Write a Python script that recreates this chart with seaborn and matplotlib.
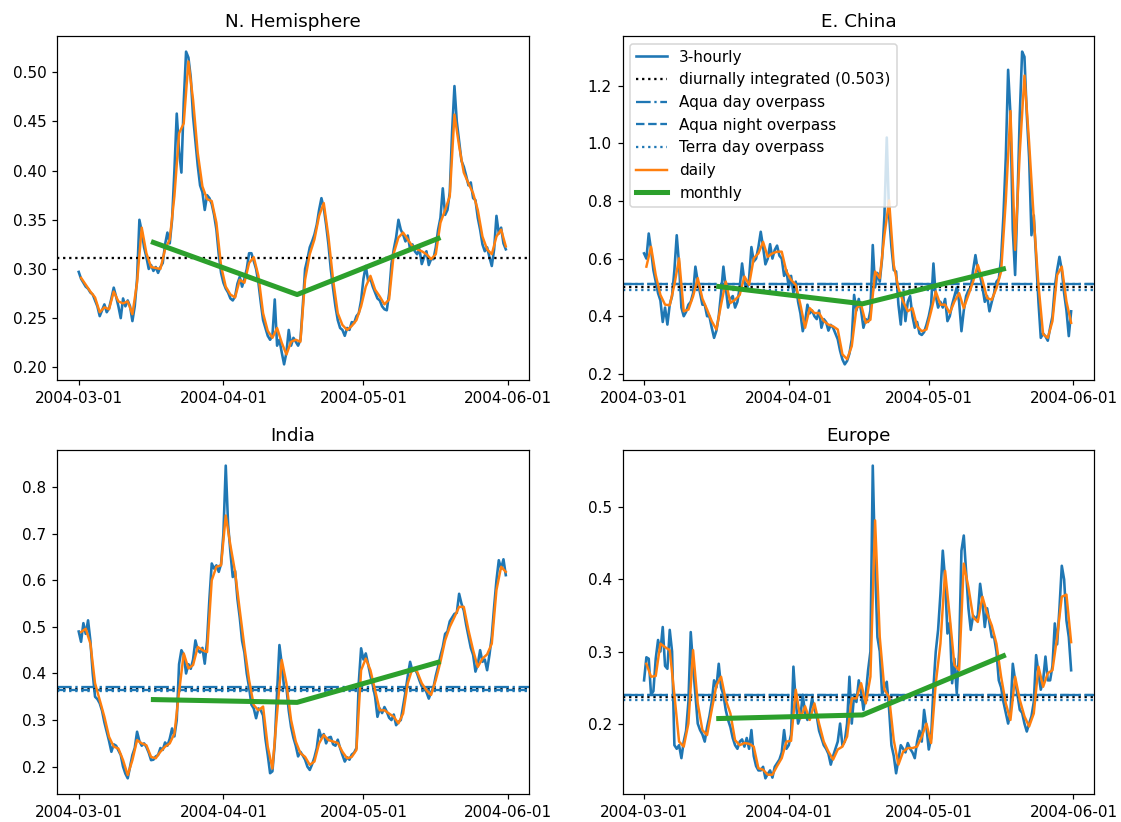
import numpy as np
import pandas as pd
import matplotlib
matplotlib.use("Agg")
import matplotlib.pyplot as plt
import matplotlib.dates as mdates
import seaborn as sns

# ---------------- data ----------------
regions = ["N. Hemisphere", "E. China", "India", "Europe"]
start_3h = "2004-03-01 00:00"   # samples read every 12 h from the 3-hourly curve
start_daily = "2004-03-01 12:00"
monthly_times = ["2004-03-17 00:00", "2004-04-16 19:00", "2004-05-17 00:00"]

nh_3h = [
    0.297, 0.290, 0.286, 0.282, 0.280, 0.276, 0.274, 0.268, 0.262, 0.252,
    0.258, 0.264, 0.256, 0.260, 0.270, 0.281, 0.272, 0.262, 0.250, 0.270,
    0.262, 0.268, 0.262, 0.247, 0.262, 0.290, 0.350, 0.338, 0.322, 0.312,
    0.300, 0.304, 0.298, 0.302, 0.296, 0.302, 0.306, 0.325, 0.337, 0.326,
    0.350, 0.400, 0.458, 0.420, 0.398, 0.470, 0.521, 0.515, 0.495, 0.455,
    0.430, 0.405, 0.385, 0.378, 0.360, 0.375, 0.372, 0.366, 0.355, 0.340,
    0.315, 0.296, 0.286, 0.280, 0.276, 0.270, 0.268, 0.272, 0.285, 0.292,
    0.282, 0.290, 0.300, 0.316, 0.316, 0.308, 0.300, 0.286, 0.266, 0.248,
    0.240, 0.232, 0.228, 0.232, 0.269, 0.222, 0.228, 0.215, 0.203, 0.215,
    0.238, 0.222, 0.230, 0.226, 0.222, 0.228, 0.262, 0.300, 0.310, 0.322,
    0.328, 0.335, 0.345, 0.360, 0.372, 0.362, 0.345, 0.325, 0.300, 0.280,
    0.262, 0.248, 0.240, 0.238, 0.232, 0.240, 0.238, 0.246, 0.245, 0.252,
    0.255, 0.268, 0.290, 0.303, 0.288, 0.290, 0.282, 0.276, 0.270, 0.268,
    0.262, 0.259, 0.258, 0.275, 0.305, 0.320, 0.332, 0.350, 0.340, 0.335,
    0.328, 0.334, 0.320, 0.325, 0.318, 0.315, 0.320, 0.305, 0.312, 0.318,
    0.304, 0.310, 0.310, 0.322, 0.340, 0.352, 0.382, 0.355, 0.360, 0.378,
    0.440, 0.486, 0.450, 0.430, 0.410, 0.404, 0.395, 0.385, 0.388, 0.372,
    0.370, 0.352, 0.340, 0.325, 0.318, 0.322, 0.312, 0.303, 0.320, 0.354,
    0.336, 0.342, 0.326, 0.320,
]
nh_daily = [
    0.291, 0.284, 0.277, 0.271, 0.256, 0.261, 0.259, 0.277, 0.267, 0.265,
    0.267, 0.254, 0.286, 0.342, 0.316, 0.302, 0.301, 0.300, 0.320, 0.330,
    0.374, 0.438, 0.448, 0.511, 0.472, 0.418, 0.384, 0.371, 0.369, 0.347,
    0.303, 0.282, 0.274, 0.271, 0.289, 0.286, 0.306, 0.312, 0.293, 0.255,
    0.237, 0.230, 0.240, 0.225, 0.213, 0.226, 0.228, 0.226, 0.289, 0.315,
    0.330, 0.354, 0.367, 0.333, 0.289, 0.255, 0.243, 0.238, 0.242, 0.248,
    0.262, 0.282, 0.293, 0.279, 0.272, 0.264, 0.269, 0.316, 0.332, 0.337,
    0.330, 0.323, 0.320, 0.318, 0.315, 0.310, 0.315, 0.347, 0.360, 0.374,
    0.457, 0.425, 0.398, 0.387, 0.377, 0.360, 0.333, 0.320, 0.315, 0.333,
    0.340, 0.323,
]
nh_monthly = [0.327, 0.274, 0.331]

ch_3h = [
    0.618, 0.600, 0.687, 0.630, 0.560, 0.520, 0.480, 0.455, 0.380, 0.430,
    0.371, 0.440, 0.470, 0.560, 0.681, 0.580, 0.430, 0.400, 0.415, 0.440,
    0.450, 0.480, 0.572, 0.520, 0.480, 0.440, 0.440, 0.400, 0.400, 0.360,
    0.325, 0.350, 0.400, 0.480, 0.572, 0.500, 0.430, 0.460, 0.470, 0.430,
    0.450, 0.500, 0.583, 0.520, 0.490, 0.530, 0.640, 0.590, 0.600, 0.640,
    0.693, 0.640, 0.580, 0.600, 0.650, 0.600, 0.630, 0.645, 0.610, 0.600,
    0.540, 0.560, 0.500, 0.540, 0.480, 0.520, 0.450, 0.410, 0.348, 0.380,
    0.440, 0.410, 0.420, 0.400, 0.390, 0.420, 0.360, 0.390, 0.380, 0.350,
    0.370, 0.360, 0.340, 0.320, 0.280, 0.250, 0.233, 0.245, 0.270, 0.320,
    0.474, 0.420, 0.460, 0.420, 0.360, 0.390, 0.380, 0.420, 0.647, 0.500,
    0.550, 0.520, 0.600, 0.750, 1.020, 0.750, 0.640, 0.560, 0.555, 0.440,
    0.371, 0.480, 0.383, 0.450, 0.470, 0.400, 0.360, 0.380, 0.340, 0.335,
    0.345, 0.370, 0.400, 0.440, 0.583, 0.470, 0.430, 0.450, 0.430, 0.460,
    0.383, 0.400, 0.440, 0.470, 0.500, 0.450, 0.348, 0.420, 0.470, 0.490,
    0.500, 0.560, 0.612, 0.560, 0.540, 0.500, 0.450, 0.470, 0.417, 0.450,
    0.480, 0.520, 0.530, 0.600, 0.750, 0.950, 1.255, 1.100, 0.700, 0.543,
    0.800, 1.100, 1.318, 1.300, 1.100, 0.950, 0.681, 0.750, 0.600, 0.450,
    0.325, 0.340, 0.330, 0.315, 0.360, 0.400, 0.500, 0.560, 0.606, 0.560,
    0.480, 0.420, 0.331, 0.417,
]
ch_daily = [
    0.572, 0.641, 0.543, 0.474, 0.440, 0.438, 0.509, 0.601, 0.417, 0.423,
    0.469, 0.532, 0.461, 0.423, 0.383, 0.354, 0.440, 0.520, 0.446, 0.457,
    0.474, 0.538, 0.509, 0.601, 0.618, 0.658, 0.606, 0.618, 0.624, 0.624,
    0.555, 0.526, 0.509, 0.440, 0.360, 0.428, 0.411, 0.411, 0.383, 0.371,
    0.365, 0.354, 0.268, 0.251, 0.296, 0.428, 0.440, 0.377, 0.388, 0.555,
    0.532, 0.681, 0.802, 0.578, 0.497, 0.451, 0.417, 0.428, 0.365, 0.348,
    0.354, 0.417, 0.486, 0.440, 0.440, 0.411, 0.451, 0.480, 0.428, 0.474,
    0.520, 0.578, 0.526, 0.463, 0.457, 0.497, 0.555, 0.800, 1.112, 0.630,
    0.968, 1.235, 1.003, 0.738, 0.509, 0.337, 0.325, 0.383, 0.543, 0.572,
    0.451, 0.377,
]
ch_monthly = [0.503, 0.443, 0.564]

in_3h = [
    0.490, 0.468, 0.508, 0.485, 0.514, 0.470, 0.400, 0.350, 0.345, 0.336,
    0.320, 0.295, 0.275, 0.255, 0.232, 0.248, 0.245, 0.235, 0.225, 0.200,
    0.185, 0.175, 0.200, 0.225, 0.240, 0.275, 0.255, 0.245, 0.250, 0.242,
    0.230, 0.214, 0.215, 0.222, 0.225, 0.240, 0.236, 0.252, 0.245, 0.260,
    0.282, 0.265, 0.300, 0.420, 0.450, 0.440, 0.400, 0.420, 0.410, 0.430,
    0.471, 0.450, 0.445, 0.455, 0.421, 0.470, 0.560, 0.636, 0.625, 0.632,
    0.618, 0.635, 0.700, 0.846, 0.720, 0.660, 0.607, 0.620, 0.560, 0.520,
    0.470, 0.445, 0.400, 0.370, 0.333, 0.325, 0.304, 0.325, 0.321, 0.310,
    0.260, 0.225, 0.186, 0.190, 0.250, 0.360, 0.461, 0.420, 0.370, 0.370,
    0.320, 0.285, 0.262, 0.245, 0.222, 0.232, 0.224, 0.215, 0.200, 0.193,
    0.205, 0.220, 0.240, 0.279, 0.262, 0.270, 0.250, 0.262, 0.264, 0.248,
    0.245, 0.258, 0.240, 0.225, 0.211, 0.220, 0.215, 0.226, 0.230, 0.240,
    0.380, 0.454, 0.430, 0.443, 0.420, 0.395, 0.375, 0.350, 0.307, 0.325,
    0.315, 0.328, 0.318, 0.305, 0.300, 0.312, 0.289, 0.296, 0.300, 0.330,
    0.360, 0.395, 0.425, 0.405, 0.410, 0.400, 0.385, 0.372, 0.370, 0.360,
    0.346, 0.360, 0.370, 0.395, 0.415, 0.438, 0.457, 0.485, 0.490, 0.512,
    0.520, 0.528, 0.530, 0.571, 0.550, 0.535, 0.505, 0.480, 0.455, 0.440,
    0.404, 0.420, 0.450, 0.425, 0.430, 0.407, 0.440, 0.480, 0.543, 0.600,
    0.643, 0.625, 0.645, 0.611,
]
in_daily = [
    0.489, 0.496, 0.464, 0.379, 0.343, 0.307, 0.264, 0.243, 0.239, 0.214,
    0.182, 0.214, 0.257, 0.250, 0.246, 0.221, 0.218, 0.232, 0.243, 0.250,
    0.271, 0.360, 0.443, 0.411, 0.418, 0.457, 0.450, 0.446, 0.600, 0.629,
    0.632, 0.739, 0.675, 0.618, 0.536, 0.457, 0.386, 0.332, 0.321, 0.329,
    0.243, 0.196, 0.314, 0.429, 0.379, 0.300, 0.254, 0.229, 0.221, 0.204,
    0.211, 0.250, 0.268, 0.257, 0.254, 0.251, 0.232, 0.218, 0.221, 0.236,
    0.407, 0.432, 0.407, 0.364, 0.321, 0.321, 0.314, 0.307, 0.293, 0.314,
    0.379, 0.411, 0.404, 0.379, 0.364, 0.354, 0.386, 0.425, 0.471, 0.500,
    0.521, 0.543, 0.543, 0.493, 0.450, 0.414, 0.432, 0.441, 0.464, 0.579,
    0.629, 0.618,
]
in_monthly = [0.344, 0.338, 0.424]

eu_3h = [
    0.260, 0.292, 0.290, 0.240, 0.245, 0.290, 0.316, 0.300, 0.334, 0.280,
    0.276, 0.330, 0.300, 0.170, 0.165, 0.170, 0.152, 0.175, 0.190, 0.230,
    0.327, 0.280, 0.240, 0.200, 0.191, 0.185, 0.175, 0.195, 0.210, 0.230,
    0.260, 0.250, 0.283, 0.250, 0.240, 0.219, 0.205, 0.195, 0.180, 0.170,
    0.165, 0.175, 0.178, 0.168, 0.180, 0.165, 0.191, 0.155, 0.141, 0.135,
    0.135, 0.140, 0.124, 0.130, 0.135, 0.125, 0.140, 0.145, 0.150, 0.160,
    0.191, 0.165, 0.170, 0.185, 0.279, 0.230, 0.200, 0.210, 0.240, 0.215,
    0.205, 0.215, 0.235, 0.220, 0.210, 0.190, 0.180, 0.170, 0.165, 0.158,
    0.143, 0.155, 0.165, 0.175, 0.200, 0.170, 0.175, 0.200, 0.265, 0.200,
    0.240, 0.230, 0.260, 0.245, 0.219, 0.240, 0.274, 0.300, 0.558, 0.420,
    0.320, 0.300, 0.240, 0.250, 0.258, 0.220, 0.170, 0.155, 0.131, 0.150,
    0.170, 0.165, 0.160, 0.173, 0.165, 0.160, 0.152, 0.175, 0.190, 0.175,
    0.219, 0.195, 0.164, 0.180, 0.250, 0.300, 0.330, 0.380, 0.440, 0.400,
    0.325, 0.340, 0.256, 0.290, 0.242, 0.300, 0.440, 0.461, 0.410, 0.360,
    0.330, 0.350, 0.345, 0.350, 0.394, 0.370, 0.334, 0.360, 0.340, 0.320,
    0.320, 0.300, 0.260, 0.250, 0.230, 0.215, 0.200, 0.215, 0.283, 0.260,
    0.240, 0.219, 0.215, 0.200, 0.189, 0.200, 0.210, 0.230, 0.295, 0.270,
    0.247, 0.260, 0.293, 0.260, 0.260, 0.280, 0.339, 0.310, 0.360, 0.419,
    0.400, 0.343, 0.320, 0.274,
]
eu_daily = [
    0.283, 0.265, 0.266, 0.311, 0.306, 0.302, 0.240, 0.175, 0.168, 0.200,
    0.302, 0.228, 0.191, 0.184, 0.219, 0.253, 0.265, 0.233, 0.214, 0.177,
    0.170, 0.173, 0.172, 0.168, 0.138, 0.136, 0.129, 0.129, 0.141, 0.152,
    0.175, 0.176, 0.247, 0.207, 0.224, 0.205, 0.228, 0.200, 0.175, 0.161,
    0.150, 0.164, 0.168, 0.182, 0.235, 0.235, 0.256, 0.228, 0.265, 0.482,
    0.320, 0.247, 0.237, 0.177, 0.143, 0.161, 0.166, 0.166, 0.168, 0.182,
    0.200, 0.173, 0.256, 0.311, 0.412, 0.348, 0.281, 0.274, 0.422, 0.389,
    0.348, 0.341, 0.376, 0.353, 0.336, 0.311, 0.265, 0.228, 0.205, 0.265,
    0.233, 0.210, 0.196, 0.214, 0.279, 0.251, 0.270, 0.274, 0.320, 0.376,
    0.379, 0.313,
]
eu_monthly = [0.207, 0.212, 0.294]

# horizontal reference values: diurnally integrated, Aqua day, Aqua night, Terra day
diurnal = [0.311, 0.503, 0.367, 0.237]
aqua_day = [None, 0.513, 0.372, 0.240]
aqua_night = [None, 0.511, 0.364, 0.239]
terra_day = [None, 0.490, 0.363, 0.233]

series_3h = [nh_3h, ch_3h, in_3h, eu_3h]
series_daily = [nh_daily, ch_daily, in_daily, eu_daily]
series_monthly = [nh_monthly, ch_monthly, in_monthly, eu_monthly]

# ---------------- plot ----------------
DPI = 110
fig, axes = plt.subplots(2, 2, figsize=(1121 / DPI, 822 / DPI), dpi=DPI)
fig.subplots_adjust(left=0.0511, right=0.9762, top=0.9562, bottom=0.0341,
                    wspace=0.1985, hspace=0.2035)

t3 = pd.date_range(start_3h, periods=len(nh_3h), freq="12h")
td = pd.date_range(start_daily, periods=len(nh_daily), freq="D")
tm = pd.to_datetime(monthly_times)

x0 = pd.Timestamp("2004-03-01 00:00")
x1 = pd.Timestamp("2004-05-31 21:00")
pad = (x1 - x0) * 0.05

for i, ax in enumerate(axes.flat):
    sns.lineplot(x=t3, y=series_3h[i], ax=ax, color="C0", lw=1.7,
                 label="3-hourly")
    ax.axhline(diurnal[i], color="black", ls=":", lw=1.5,
               label=f"diurnally integrated ({diurnal[i]:.3f})")
    if aqua_day[i] is not None:
        ax.axhline(aqua_day[i], color="C0", ls="-.", lw=1.5,
                   label="Aqua day overpass")
        ax.axhline(aqua_night[i], color="C0", ls="--", lw=1.5,
                   label="Aqua night overpass")
        ax.axhline(terra_day[i], color="C0", ls=":", lw=1.5,
                   label="Terra day overpass")
    sns.lineplot(x=td, y=series_daily[i], ax=ax, color="C1", lw=1.6,
                 label="daily")
    sns.lineplot(x=tm, y=series_monthly[i], ax=ax, color="C2", lw=3.3,
                 label="monthly")
    ax.set_title(regions[i], fontsize=12)
    ax.set_xlim(x0 - pad, x1 + pad)
    ax.xaxis.set_major_locator(mdates.MonthLocator())
    ax.xaxis.set_major_formatter(mdates.DateFormatter("%Y-%m-%d"))
    ax.set_xlabel("")
    ax.set_ylabel("")
    ax.tick_params(labelsize=10)
    leg = ax.get_legend()
    if leg is not None:
        leg.remove()
    if regions[i] == "E. China":
        ax.legend(loc="upper left", fontsize=10)

fig.savefig("out.png", dpi=DPI)
